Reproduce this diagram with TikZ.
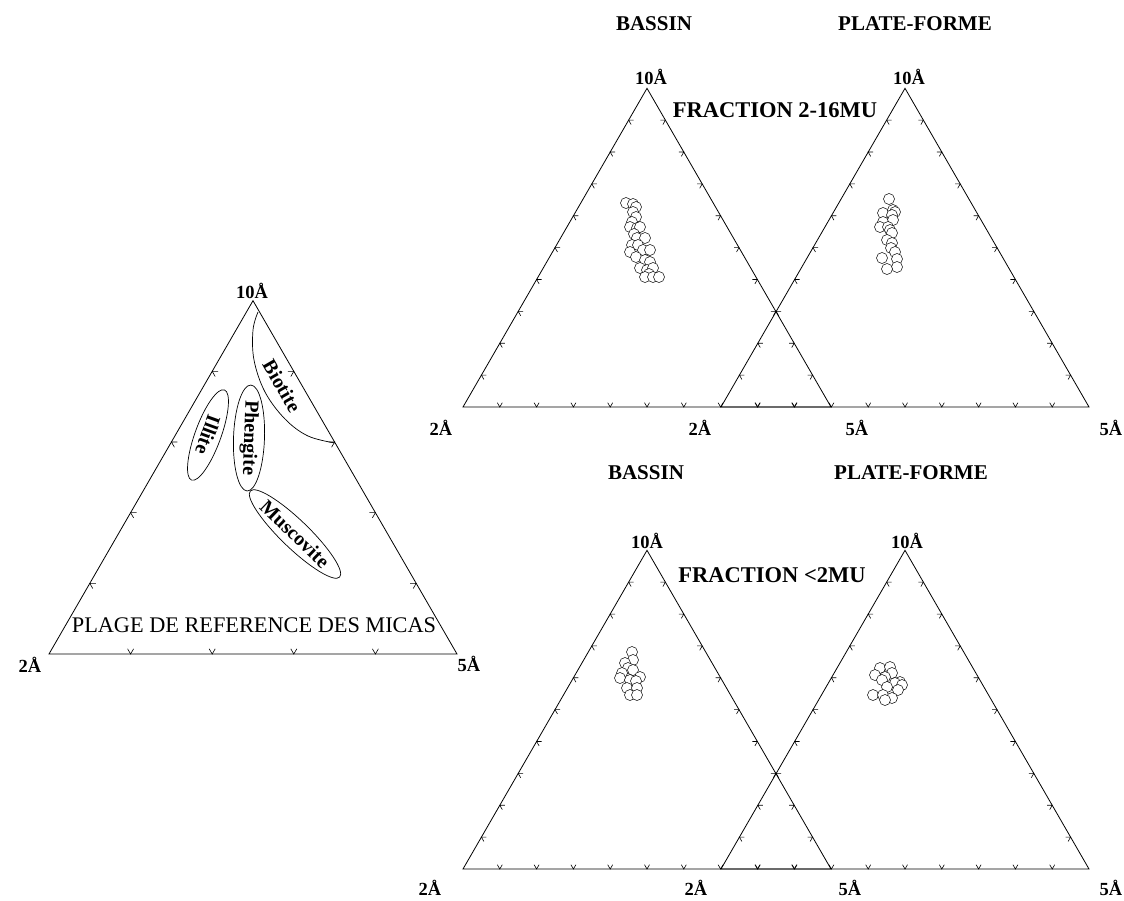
\documentclass[tikz,border=0pt]{standalone}
\usepackage{fontspec}
\setmainfont{Liberation Serif}
\usetikzlibrary{calc,shapes.geometric}
\newcommand\terngrid[6]{% #1 name, #2 x, #3 y (bottom), #4 side, #5 divisions, #6 arm length
  \pgfmathsetmacro\tgh{#4*0.8660254}
  \coordinate (#1L) at (#2,#3);
  \coordinate (#1R) at ({#2+#4},#3);
  \coordinate (#1T) at ({#2+#4/2},{#3-\tgh});
  \draw[frame] (#1L) -- (#1R) -- (#1T) -- cycle;
  \pgfmathtruncatemacro\tgm{#5-1}
  \foreach \kk in {1,...,\tgm}{
    \pgfmathsetmacro\tgf{\kk/#5}
    \draw[tickmark] ($(#1L)!\tgf!(#1R)$) +({0.5*#6},{-0.866*#6}) -- +(0,0) -- +({-0.5*#6},{-0.866*#6});
    \draw[tickmark] ($(#1L)!\tgf!(#1T)$) +(#6,0) -- +(0,0) -- +({0.5*#6},{0.866*#6});
    \draw[tickmark] ($(#1R)!\tgf!(#1T)$) +(-#6,0) -- +(0,0) -- +({-0.5*#6},{0.866*#6});
  }
}
\begin{document}
\begin{tikzpicture}[x=1pt,y=-1pt,
  frame/.style={line width=0.8pt,line join=miter},
  tickmark/.style={line width=0.6pt},
  axlab/.style={font=\bfseries\fontsize{18.5}{20}\selectfont,inner sep=0pt},
  title/.style={font=\bfseries\fontsize{21}{23}\selectfont,inner sep=0pt},
  fraclab/.style={font=\bfseries\fontsize{22.5}{24}\selectfont,inner sep=0pt},
  mineral/.style={draw,ellipse,line width=0.7pt,inner sep=0pt,font=\bfseries\fontsize{20}{22}\selectfont},
  pt/.style={draw,line width=0.5pt,fill=white}]
\useasboundingbox (0,0) rectangle (1124,900);

% ---------------- left reference triangle ----------------
\terngrid{A}{49}{654}{408}{5}{6}
\node[axlab] (a10) at (252,291) {10Å};
\node[axlab] (a2) at (30,665) {2Å};
\node[axlab] (a5) at (469,664) {5Å};
\node[inner sep=0pt,font=\fontsize{22.3}{24}\selectfont] (plage) at (254,625) {PLAGE DE REFERENCE DES MICAS};
\draw[line width=0.7pt] plot[smooth,tension=0.6] coordinates {(258,312) (253,330) (254,360) (265,392) (285,419) (308,436) (335,443)};
\node[inner sep=0pt,rotate=-60,font=\bfseries\fontsize{20}{22}\selectfont] (biotite) at (282,386) {Biotite};
\node[mineral,rotate=-110,minimum width=96pt,minimum height=26pt] (illite) at (208,435) {Illite};
\node[mineral,rotate=-92,minimum width=106pt,minimum height=31pt] (phengite) at (249,438) {Phengite};
\node[mineral,rotate=-44,minimum width=100pt,minimum height=28pt] (muscovite) at (295,534) {Muscovite};

% ---------------- top pair : fraction 2-16 mu ----------------
\node[title] (t1) at (654,24) {BASSIN};
\node[title] (t2) at (915,24) {PLATE-FORME};
\terngrid{B}{463}{407}{368}{10}{5}
\terngrid{C}{721}{407}{368}{10}{5}
\node[axlab] (b10) at (651,77) {10Å};
\node[axlab] (c10) at (909,77) {10Å};
\node[fraclab] (f1) at (775,110) {FRACTION 2-16MU};
\node[axlab] (b2l) at (441,428) {2Å};
\node[axlab] (b2r) at (700,428) {2Å};
\node[axlab] (c5l) at (857,428) {5Å};
\node[axlab] (c5r) at (1111,428) {5Å};
\foreach \p in {(626,203),(633,204),(636,207),(633,212),(636,217),(632,222),(630,227),(637,228),(640,227),(634,234),(637,238),(645,238),(632,245),(638,245),(630,252),(643,250),(650,250),(636,257),(645,260),(650,262),(640,268),(647,270),(653,268),(649,274),(645,277),(653,277),(659,277)}
  \draw[pt] \p circle[radius=5.5pt];
\foreach \p in {(889,199),(893,210),(895,212),(883,213),(892,215),(893,220),(883,222),(880,227),(888,227),(890,230),(892,233),(887,240),(892,243),(891,248),(895,252),(882,258),(897,259),(897,267),(887,269)}
  \draw[pt] \p circle[radius=5.5pt];

% ---------------- bottom pair : fraction < 2 mu ----------------
\node[title] (t3) at (646,473) {BASSIN};
\node[title] (t4) at (911,473) {PLATE-FORME};
\terngrid{D}{463}{869}{368}{10}{5}
\terngrid{E}{721}{869}{368}{10}{5}
\node[axlab] (d10) at (647,541) {10Å};
\node[axlab] (e10) at (907,541) {10Å};
\node[fraclab] (f2) at (772,575) {FRACTION <2MU};
\node[axlab] (d2l) at (430,888) {2Å};
\node[axlab] (d2r) at (696,888) {2Å};
\node[axlab] (e5l) at (850,888) {5Å};
\node[axlab] (e5r) at (1111,888) {5Å};
\foreach \p in {(632,652),(633,660),(625,663),(628,668),(633,670),(622,673),(620,678),(640,677),(630,680),(636,681),(627,688),(637,688),(630,695),(637,695)}
  \draw[pt] \p circle[radius=5.5pt];
\foreach \p in {(880,668),(890,667),(875,675),(892,673),(885,677),(882,680),(900,682),(895,683),(902,685),(887,687),(898,690),(873,695),(883,695),(892,698),(885,700)}
  \draw[pt] \p circle[radius=5.5pt];
\end{tikzpicture}
\end{document}
